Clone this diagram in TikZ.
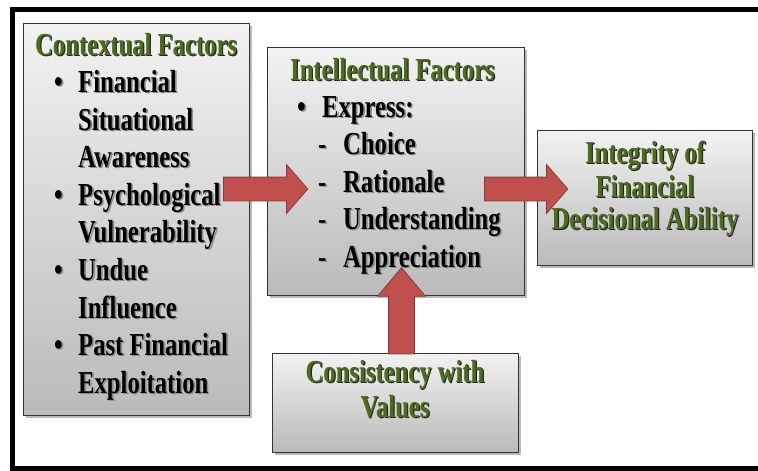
\documentclass[tikz,border=0pt]{standalone}
\usepackage{fontspec}
\newfontfamily\figfont[FakeStretch=0.77]{Liberation Serif}
\usetikzlibrary{calc,shapes.arrows,shadows}
\definecolor{headgreen}{RGB}{78,108,30}
\definecolor{arrowred}{RGB}{192,80,77}
\definecolor{arrowline}{RGB}{140,56,54}
% text with a shadow behind it
\newcommand{\shtxt}[1]{\rlap{\kern1.6pt\raisebox{-1.6pt}{\textcolor{black!45}{#1}}}#1}
\newcommand{\shhead}[1]{\rlap{\kern1.2pt\raisebox{-1.2pt}{\textcolor{black!85}{#1}}}#1}

\begin{document}
\begin{tikzpicture}[x=1pt,y=-1pt,
  box/.style={draw=black!80,line width=0.8pt,top color=black!5,bottom color=black!27,
    drop shadow={shadow xshift=2.5pt,shadow yshift=-2.5pt,opacity=0.55},inner sep=0},
  txt/.style={font=\figfont\bfseries\fontsize{32}{38}\selectfont,inner sep=0,anchor=base west},
  ctxt/.style={txt,anchor=base},
  head/.style={txt,text=headgreen},
  chead/.style={ctxt,text=headgreen},
  bigarrow/.style={shape=single arrow,draw=arrowline,fill=arrowred,line width=0.8pt,
    inner xsep=0,single arrow head indent=0}]
\useasboundingbox (0,0) rectangle (758,471);
\clip (0,0) rectangle (758,471);
\draw [line width=5] (12,9) rectangle (790,468.5);
% boxes
\node[box,minimum width=226,minimum height=392] (ctx) at (136,219) {};
\node[box,minimum width=257,minimum height=248] (mid) at (395.5,171) {};
\node[box,minimum width=215,minimum height=135] (dec) at (644.5,197.5) {};
\node[box,minimum width=246,minimum height=99] (val) at (395,402.5) {};
% contextual factors
\node[head] (ctxh) at (35,55) {\shhead{Contextual Factors}};
\foreach \i/\y/\t in {1/92/Financial,2/130/Situational,3/167/Awareness,4/205/Psychological,
  5/242/Vulnerability,6/280/Undue,7/318/Influence,8/355/Past Financial,9/393/Exploitation}
  \node[txt] (ctx\i) at (78,\y) {\shtxt{\t}};
\foreach \i/\y in {1/92,2/205,3/280,4/355}
  \node[txt] (ctxb\i) at (54,\y) {\shtxt{\textbullet}};
% intellectual factors
\node[head] (midh) at (290,80) {\shhead{Intellectual Factors}};
\node[txt] (midb) at (297,117) {\shtxt{\textbullet}};
\node[txt] (midx) at (322,117) {\shtxt{Express:}};
\foreach \i/\y/\t in {1/154/Choice,2/192/Rationale,3/229/Understanding,4/267/Appreciation}
  {\node[txt] (midd\i) at (318,\y) {\shtxt{-}};
   \node[txt] (mid\i) at (343,\y) {\shtxt{\t}};}
% integrity
\node[chead] (dec1) at (645,163) {\shhead{Integrity of}};
\node[chead] (dec2) at (645,197) {\shhead{Financial}};
\node[chead] (dec3) at (645,229) {\shhead{Decisional Ability}};
% values
\node[chead] (val1) at (395,382) {\shhead{Consistency with}};
\node[chead] (val2) at (395,417) {\shhead{Values}};
% arrows
\coordinate (a1s) at ($(ctx.east)+(-31,-30)$);
\coordinate (a1e) at ($(mid.west)+(36,18)$);
\coordinate (a2s) at ($(mid.east)+(-45,18)$);
\coordinate (a2e) at ($(dec.west)+(26,-8.5)$);
\coordinate (a3s) at ($(val.north)+(6.5,9)$);
\coordinate (a3e) at ($(mid.south)+(6,-20)$);
\path let \p1=($(a1e)-(a1s)$), \n1={veclen(\x1,\y1)}, \n2={atan2(\y1,\x1)} in
  node[bigarrow,inner ysep=11.5,single arrow head extend=12.5,single arrow tip angle=98,
    minimum height=\n1,rotate=\n2] (arr1) at ($(a1s)!0.5!(a1e)$) {};
\path let \p1=($(a2e)-(a2s)$), \n1={veclen(\x1,\y1)}, \n2={atan2(\y1,\x1)} in
  node[bigarrow,inner ysep=11.5,single arrow head extend=12.5,single arrow tip angle=98,
    minimum height=\n1,rotate=\n2] (arr2) at ($(a2s)!0.5!(a2e)$) {};
\path let \p1=($(a3e)-(a3s)$), \n1={veclen(\x1,\y1)}, \n2={atan2(\y1,\x1)} in
  node[bigarrow,inner ysep=12.5,single arrow head extend=11,single arrow tip angle=80,
    minimum height=\n1,rotate=\n2] (arr3) at ($(a3s)!0.5!(a3e)$) {};
\end{tikzpicture}
\end{document}
